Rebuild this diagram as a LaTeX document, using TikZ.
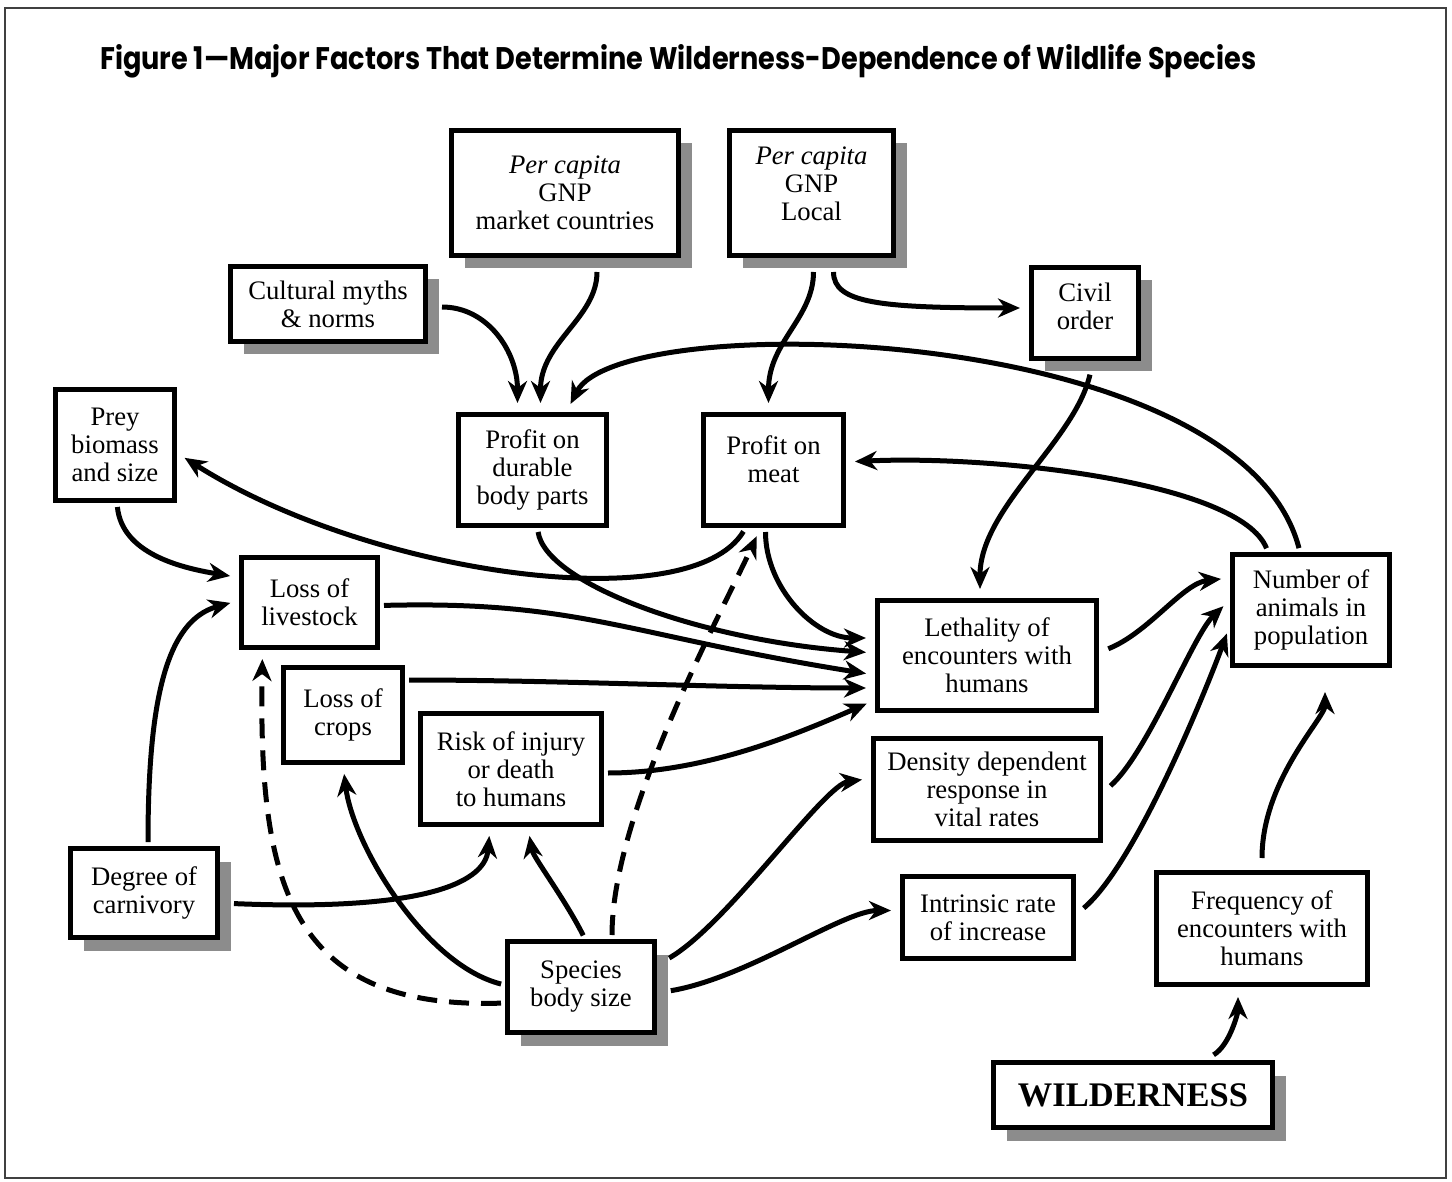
\documentclass[tikz,border=0pt]{standalone}
\usepackage{fontspec}
\setmainfont{Liberation Serif}
\newfontfamily\titlefont{Poppins}
\usetikzlibrary{arrows.meta,shadows}

\begin{document}
\begin{tikzpicture}[x=1pt,y=-1pt]
		\tikzstyle{factor}=[draw,line width=5pt,fill=white,align=center,inner sep=0pt,font=\fontsize{26.7pt}{28pt}\selectfont]
		\tikzstyle{raised}=[factor,drop shadow={shadow xshift=13pt,shadow yshift=-13pt,fill=black!45,opacity=1}]
		\tikzstyle{link}=[line width=5pt,-{Stealth[length=22pt,width=19pt,inset=7pt]},shorten >=9pt,shorten <=4pt]
		\tikzstyle{weak}=[link,dash pattern=on 20pt off 12pt]
		
		\useasboundingbox (0,0) rectangle (1452,1182);
		\draw[line width=1.5pt,black!75] (5,8) rectangle (1446,1178);
		\node[anchor=base west,inner sep=0pt] (title) at (100,70) {\resizebox{1156pt}{25pt}{\titlefont\bfseries Figure 1—Major Factors That Determine Wilderness-Dependence of Wildlife Species}};
		
		\node[raised,minimum width=227pt,minimum height=125pt] (market) at (565,193) {\textit{Per capita}\\GNP\\market countries};
		\node[raised,minimum width=164pt,minimum height=125pt,text depth=18pt] (local) at (811.5,193) {\textit{Per capita}\\GNP\\Local};
		\node[raised,minimum width=195pt,minimum height=75pt] (myths) at (328,304) {Cultural myths\\\& norms};
		\node[raised,minimum width=107pt,minimum height=91pt,text depth=14pt] (civil) at (1085,313) {Civil\\order};
		\node[factor,minimum width=119pt,minimum height=111pt] (prey) at (115,445) {Prey\\biomass\\and size};
		\node[factor,minimum width=148pt,minimum height=111pt] (durable) at (532.5,470) {Profit on\\durable\\body parts};
		\node[factor,minimum width=140pt,minimum height=111pt,text depth=22pt] (meat) at (773.5,470) {Profit on\\meat};
		\node[factor,minimum width=136pt,minimum height=90pt] (livestock) at (309.5,602.5) {Loss of\\livestock};
		\node[factor,minimum width=157pt,minimum height=111pt] (number) at (1311,610) {Number of\\animals in\\population};
		\node[factor,minimum width=219pt,minimum height=110pt] (lethal) at (987,655.5) {Lethality of\\encounters with\\humans};
		\node[factor,minimum width=119pt,minimum height=95pt] (crops) at (343,715) {Loss of\\crops};
		\node[factor,minimum width=181pt,minimum height=111pt] (risk) at (511,769) {Risk of injury\\or death\\to humans};
		\node[factor,minimum width=227pt,minimum height=102pt] (density) at (987,789.5) {Density dependent\\response in\\vital rates};
		\node[raised,minimum width=147pt,minimum height=89pt] (carnivory) at (144,893) {Degree of\\carnivory};
		\node[factor,minimum width=171pt,minimum height=82pt] (intrinsic) at (988,917.5) {Intrinsic rate\\of increase};
		\node[factor,minimum width=211pt,minimum height=112pt] (frequency) at (1262,928.5) {Frequency of\\encounters with\\humans};
		\node[raised,minimum width=147pt,minimum height=91pt] (species) at (581,987) {Species\\body size};
		\node[raised,minimum width=279pt,minimum height=65pt,font=\fontsize{34.5pt}{36pt}\selectfont\bfseries] (wild) at (1133,1095) {WILDERNESS};
		
		\draw[link,shorten <=14pt] ([yshift=-3pt]myths.east) .. controls +(60,0) and +(0,-60) .. ([xshift=-15pt]durable.north);
		\draw[link,shorten <=14pt] ([xshift=32pt]market.south) .. controls +(0,60) and +(0,-70) .. ([xshift=8pt]durable.north);
		\draw[link] ([xshift=-11pt]number.north) .. controls +(-60,-230) and +(53,-105) .. ([xshift=34pt]durable.north);
		\draw[link,shorten <=14pt] ([xshift=2pt]local.south) .. controls +(0,60) and +(0,-70) .. ([xshift=-5pt]meat.north);
		\draw[link,shorten <=14pt] ([xshift=22pt]local.south) .. controls +(0,45) and +(-150,0) .. ([yshift=5pt]civil.west);
		\draw[link,shorten <=14pt] ([xshift=8pt]civil.south) .. controls +(-18,80) and +(0,-90) .. ([xshift=-7pt]lethal.north);
		\draw[link] ([xshift=-43pt]number.north) .. controls +(-28,-70) and +(148,-7) .. ([yshift=8pt]meat.east);
		\draw[link] ([xshift=-28pt]meat.south) .. controls +(-55,92) and +(192,122) .. ([yshift=-8pt]prey.east);
		\draw[link] ([xshift=5pt]durable.south) .. controls +(8,55) and +(-177,-13) .. ([yshift=2.5pt]lethal.west);
		\draw[link] ([xshift=-8pt]meat.south) .. controls +(0,60) and +(-60,0) .. ([yshift=17.5pt]lethal.west);
		\draw[link] ([yshift=-3pt]livestock.east) .. controls +(200,-5) and +(-250,-40) .. ([yshift=-19.5pt]lethal.west);
		\draw[link] ([yshift=35pt]crops.east) .. controls +(150,0) and +(-150,0) .. ([yshift=-32.5pt]lethal.west);
		\draw[link] ([yshift=-4pt]risk.east) .. controls +(100,0) and +(-80,35) .. ([yshift=-44.5pt]lethal.west);
		\draw[link] ([xshift=2pt]prey.south) .. controls +(5,50) and +(-60,-10) .. ([yshift=25pt]livestock.west);
		\draw[link] ([xshift=4pt]carnivory.north) .. controls +(0,-148) and +(-72,20) .. ([yshift=2pt]livestock.west);
		\draw[link,shorten <=14pt] ([yshift=-10pt]carnivory.east) .. controls +(190,8) and +(-5,60) .. ([xshift=-21pt]risk.south);
		\draw[link] ([xshift=4pt]species.north) .. controls +(-20,-40) and +(5,30) .. ([xshift=17pt]risk.south);
		\draw[link] ([yshift=2pt]species.west) .. controls +(-80,-20) and +(10,80) .. (crops.south);
		\draw[weak] ([yshift=-16pt]species.west) .. controls +(-217,7) and +(-4,232) .. ([xshift=-47pt]livestock.south);
		\draw[weak] ([xshift=31pt]species.north) .. controls +(0,-126) and +(-40,87) .. ([xshift=-13pt]meat.south);
		\draw[link,shorten <=14pt] ([yshift=22pt]species.east) .. controls +(70,-40) and +(-47,6) .. ([yshift=11pt]density.west);
		\draw[link,shorten <=14pt] ([yshift=-6pt]species.east) .. controls +(90,-15) and +(-57,0) .. ([yshift=7pt]intrinsic.west);
		\draw[link,shorten <=10pt] ([yshift=3pt]lethal.east) .. controls +(50,-20) and +(-47,5) .. ([yshift=32pt]number.west);
		\draw[link,shorten <=10pt] ([yshift=-3pt]density.east) .. controls +(45,-40) and +(-37,35) .. ([yshift=10pt]number.west);
		\draw[link,shorten <=10pt] ([yshift=3pt]intrinsic.east) .. controls +(60,-50) and +(-22,60) .. ([yshift=-15pt]number.west);
		\draw[link,shorten <=12pt,shorten >=24pt] (frequency.north) .. controls +(0,-90) and +(0,50) .. ([xshift=14pt]number.south);
		\draw[link,shorten <=10pt,shorten >=10pt] ([xshift=72pt]wild.north) .. controls +(25,-15) and +(0,25) .. ([xshift=-24pt]frequency.south);
\end{tikzpicture}
\end{document}
